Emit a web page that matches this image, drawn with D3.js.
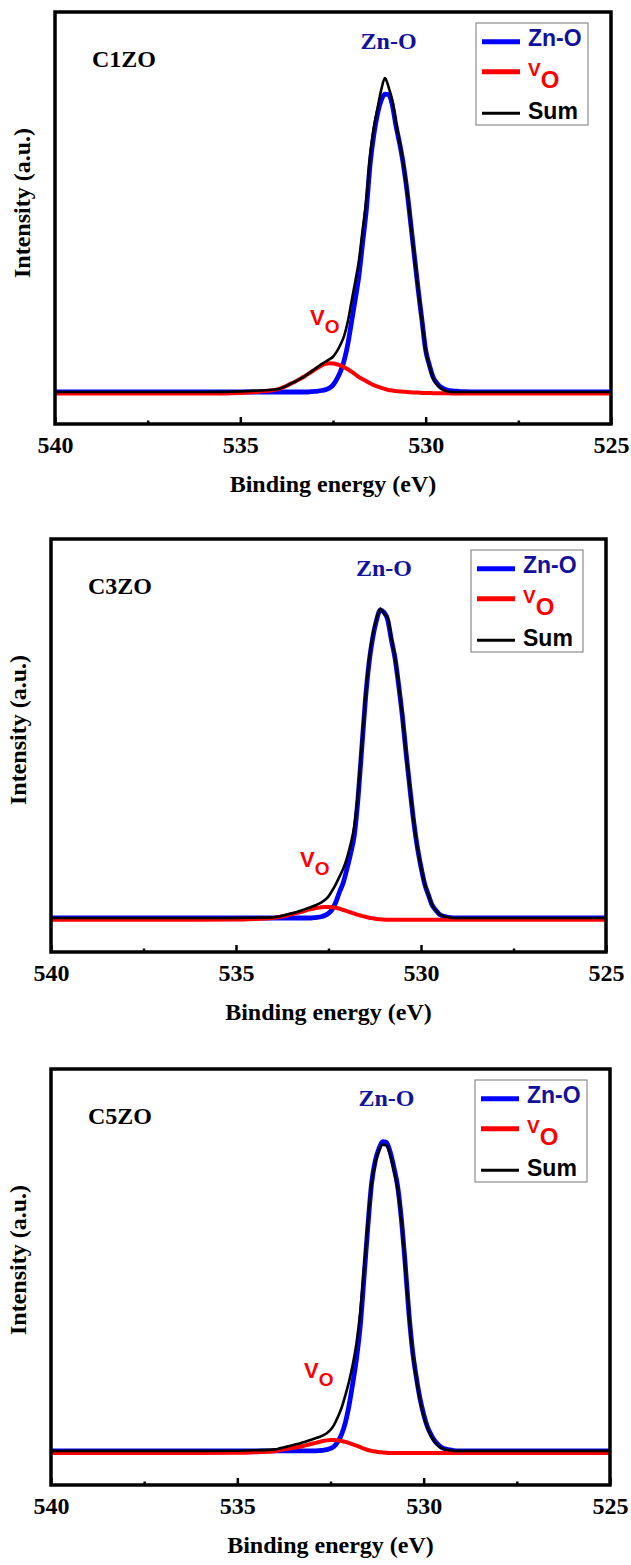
<!DOCTYPE html>
<html><head><meta charset="utf-8">
<script src="https://cdn.jsdelivr.net/npm/d3@7"></script>
<style>body{margin:0;background:#fff}svg{display:block;background:#fff}</style>
</head><body><svg id="c" width="631" height="1565"></svg>
<script>
// ---------- DATA ----------
const energies = [540, 536, 535, 534.5,
  534.0, 533.9, 533.8, 533.7, 533.6, 533.5, 533.4, 533.3, 533.2, 533.1,
  533.0, 532.9, 532.8, 532.7, 532.6, 532.5, 532.4, 532.3, 532.2, 532.1,
  532.0, 531.9, 531.8, 531.7, 531.6, 531.5, 531.4, 531.3, 531.2, 531.1,
  531.0, 530.9, 530.8, 530.7, 530.6, 530.5, 530.4, 530.3, 530.2, 530.1,
  530.0, 529.9, 529.8, 529.7, 529.6, 529.5, 529.4, 529.3, 529.2, 529.1,
  529.0, 528.5, 527, 525];

const c1ZnO = [0,0,0,0,
  0,0,0,0,0,0,0,0,0,0.1,
  0.2,0.3,0.5,0.8,1.3,2.3,4.2,6.8,10.5,16,
  23.5,31,39,50,61,76,86,93,97.5,99.6,
  99.5,96,89,83,76,67,56,45,34,24,
  14,9,5,3,1.7,1,0.6,0.4,0.3,0.2,
  0.1,0,0,0];
const c1Vo = [-0.5,-0.5,-0.3,0.1,
  0.9,1.3,1.8,2.4,3.0,3.6,4.3,5.0,5.8,6.6,
  7.4,8.2,8.9,9.4,9.6,9.5,9.3,8.9,8.3,7.6,
  6.8,5.9,5.0,4.3,3.6,2.9,2.3,1.8,1.4,1.0,
  0.7,0.5,0.3,0.2,0.1,0,-0.1,-0.2,-0.2,-0.3,
  -0.3,-0.3,-0.4,-0.4,-0.4,-0.4,-0.4,-0.5,-0.5,-0.5,
  -0.5,-0.5,-0.5,-0.5];
const c1Sum = [0,0,0.2,0.5,
  0.9,1.3,1.8,2.4,3.0,3.6,4.3,5.0,5.8,6.7,
  7.6,8.5,9.4,10.2,10.9,11.8,13.5,15.8,18.8,23.6,
  30.3,36.9,44,54.3,64.6,78.9,88.3,94.8,101,105,
  102,97.5,90,83.2,76.1,67,55.9,44.8,33.8,23.7,
  13.7,8.7,4.6,2.6,1.3,0.6,0.2,0,0,0,
  0,0,0,0];

const c3ZnO = [0,0,0,0,
  0,0,0,0,0,0,0,0,0,0,
  0,0.1,0.2,0.4,0.8,1.5,2.8,5.2,8.5,11.5,
  16,21,27,39,55,71,83,91,96.5,99.7,
  99,96.5,90,84,75,65,53,42,31.5,23,
  16.5,11,7.5,4.2,2.5,1.2,0.6,0.3,0.1,0,
  0,0,0,0];
const c3Vo = [-0.6,-0.6,-0.5,-0.3,
  0,0.2,0.4,0.6,0.9,1.2,1.5,1.8,2.1,2.5,
  2.8,3.1,3.3,3.5,3.6,3.6,3.5,3.3,3.0,2.6,
  2.2,1.8,1.4,1.0,0.7,0.4,0.1,-0.1,-0.3,-0.4,
  -0.5,-0.6,-0.6,-0.6,-0.6,-0.6,-0.6,-0.6,-0.6,-0.6,
  -0.6,-0.6,-0.6,-0.6,-0.6,-0.6,-0.6,-0.6,-0.6,-0.6,
  -0.6,-0.6,-0.6,-0.6];
const c3Sum = [0,0,0.05,0.1,
  0.2,0.4,0.6,0.9,1.2,1.5,1.8,2.2,2.6,3.0,
  3.4,3.9,4.4,5.0,5.8,7.0,8.9,11.0,13.5,16.0,
  19.5,24,30,41,56.5,72,84,92,97,100.2,
  98.5,97.2,90.5,84,75,65,53,42,31.5,23,
  16.5,11,7.5,4.2,2.5,1.2,0.6,0.3,0.1,0,
  0,0,0,0];

const c5ZnO = [0,0,0,0,
  0,0,0,0,0,0,0,0,0,0,
  0,0,0.1,0.2,0.4,0.8,1.5,3.0,5.4,9.2,
  14.8,22,30,40.5,56,72,86,93.5,97.5,99.8,
  99.5,96.5,91.5,85.5,75,61,45,32.5,24,17,
  11.8,7.8,5.2,3.2,1.9,1.0,0.6,0.3,0.1,0,
  0,0,0,0];
const c5Vo = [-0.7,-0.7,-0.6,-0.4,
  -0.1,0.1,0.4,0.6,0.8,1.0,1.2,1.4,1.7,2.0,
  2.3,2.6,2.9,3.2,3.4,3.5,3.5,3.4,3.2,2.9,
  2.5,2.1,1.7,1.2,0.7,0.3,0,-0.2,-0.4,-0.5,
  -0.6,-0.7,-0.7,-0.7,-0.7,-0.7,-0.7,-0.7,-0.7,-0.7,
  -0.7,-0.7,-0.7,-0.7,-0.7,-0.7,-0.7,-0.7,-0.7,-0.7,
  -0.7,-0.7,-0.7,-0.7];
const c5Sum = [0,0,0.05,0.2,
  0.5,0.7,1.0,1.3,1.6,1.9,2.2,2.5,2.9,3.3,
  3.7,4.1,4.5,5.0,5.7,6.8,8.5,11.0,14.0,18.0,
  22.5,28,35,45,59,73.5,86,93,97,98.8,
  98.5,95.5,90.5,84.5,74.5,60.5,44.5,32,23.5,16.5,
  11.3,7.4,4.8,2.9,1.6,0.8,0.4,0.2,0,0,
  0,0,0,0];

const sampleNames = ["C1ZO", "C3ZO", "C5ZO"];
const znoSeries = [c1ZnO, c3ZnO, c5ZnO];
const voSeries = [c1Vo, c3Vo, c5Vo];
const sumSeries = [c1Sum, c3Sum, c5Sum];
const majorTicks = [540, 535, 530, 525];
const minorTicks = [537.5, 532.5, 527.5];
const legendNames = ["Zn-O", "V", "Sum"];
const xTitle = "Binding energy (eV)";
const yTitle = "Intensity (a.u.)";
// label anchor positions in data units [energy, intensity]
const voLabelAt = [[533.12, 22.4], [533.27, 16.5], [533.21, 23.5]];
const znoLabelAt = [531.0, 531.0, 531.0];

// ---------- LAYOUT ----------
const panels = [
  {left: 55, right: 611, top: 12, bottom: 424, yDomain: [-10.7, 127.1]},
  {left: 51, right: 606, top: 539, bottom: 952, yDomain: [-11.0, 122.7]},
  {left: 51, right: 610, top: 1069, bottom: 1485, yDomain: [-11.0, 123.2]}
];

const svg = d3.select("#c");
const serif = "'Liberation Serif','Times New Roman',Times,serif";
const sans = "'Liberation Sans',Arial,Helvetica,sans-serif";
const ZN_TEXT = "#12129a";
const BLUE = "#0000ff", RED = "#ff0000";

panels.forEach((p, i) => {
  const x = d3.scaleLinear().domain([540, 525]).range([p.left, p.right]);
  const y = d3.scaleLinear().domain(p.yDomain).range([p.bottom, p.top]);
  const g = svg.append("g");
  const clipId = "clip" + i;
  svg.append("clipPath").attr("id", clipId).append("rect")
    .attr("x", p.left).attr("y", p.top)
    .attr("width", p.right - p.left).attr("height", p.bottom - p.top);

  const line = d3.line().x((d, j) => x(energies[j])).y(d => y(d)).curve(d3.curveMonotoneX);
  const plot = g.append("g").attr("clip-path", `url(#${clipId})`);
  plot.append("path").datum(znoSeries[i]).attr("d", line)
    .attr("fill", "none").attr("stroke", BLUE).attr("stroke-width", 4.8).attr("stroke-linejoin", "round");
  plot.append("path").datum(voSeries[i]).attr("d", line)
    .attr("fill", "none").attr("stroke", RED).attr("stroke-width", 4).attr("stroke-linejoin", "round");
  plot.append("path").datum(sumSeries[i]).attr("d", line)
    .attr("fill", "none").attr("stroke", "#000").attr("stroke-width", 2.6).attr("stroke-linejoin", "round");

  // axis ticks
  const ax = d3.axisBottom(x).tickValues(majorTicks).tickSize(-7).tickPadding(0).tickFormat(d3.format("d"));
  const axg = g.append("g").attr("transform", `translate(0,${p.bottom})`).call(ax);
  axg.select(".domain").remove();
  axg.selectAll(".tick line").attr("stroke", "#000").attr("stroke-width", 2.5);
  axg.selectAll(".tick text").attr("y", 29).attr("dy", 0)
    .attr("font-family", serif).attr("font-weight", "bold").attr("font-size", 24).attr("fill", "#000");
  const mx = d3.axisBottom(x).tickValues(minorTicks).tickSize(-3.5).tickFormat("");
  const mxg = g.append("g").attr("transform", `translate(0,${p.bottom})`).call(mx);
  mxg.select(".domain").remove();
  mxg.selectAll(".tick line").attr("stroke", "#000").attr("stroke-width", 2.5);

  // frame
  g.append("rect").attr("x", p.left).attr("y", p.top)
    .attr("width", p.right - p.left).attr("height", p.bottom - p.top)
    .attr("fill", "none").attr("stroke", "#000").attr("stroke-width", 3.5);

  // axis titles
  g.append("text").attr("x", (p.left + p.right) / 2).attr("y", p.bottom + 68)
    .attr("text-anchor", "middle").attr("font-family", serif).attr("font-weight", "bold")
    .attr("font-size", 24).text(xTitle);
  g.append("text").attr("transform", `translate(${p.left - 25},${p.top + 191}) rotate(-90)`)
    .attr("text-anchor", "middle").attr("font-family", serif).attr("font-weight", "bold")
    .attr("font-size", 24).text(yTitle);

  // sample name
  g.append("text").attr("x", p.left + 37).attr("y", p.top + 55)
    .attr("font-family", serif).attr("font-weight", "bold").attr("font-size", 24).text(sampleNames[i]);

  // Zn-O annotation
  g.append("text").attr("x", x(znoLabelAt[i])).attr("y", p.top + 37)
    .attr("text-anchor", "middle").attr("font-family", serif).attr("font-weight", "bold")
    .attr("font-size", 24).attr("fill", ZN_TEXT).text("Zn-O");

  // Vo annotation
  const vt = g.append("text").attr("x", x(voLabelAt[i][0])).attr("y", y(voLabelAt[i][1]))
    .attr("font-family", sans).attr("font-weight", "bold").attr("fill", RED);
  vt.append("tspan").attr("font-size", 22).text("V");
  vt.append("tspan").attr("font-size", 19).attr("dy", 8).text("O");

  // legend
  const lx = p.right - 135, ly = p.top + 11;
  g.append("rect").attr("x", lx).attr("y", ly).attr("width", 112).attr("height", 102)
    .attr("fill", "#fff").attr("stroke", "#8c8c8c").attr("stroke-width", 1.2);
  const lineYs = [29.7, 59.7, 101.3];
  const cols = [BLUE, RED, "#000"];
  const widths = [5, 5, 3];
  lineYs.forEach((ly2, k) => {
    g.append("line").attr("x1", p.right - 129).attr("x2", p.right - 91)
      .attr("y1", p.top + ly2).attr("y2", p.top + ly2)
      .attr("stroke", cols[k]).attr("stroke-width", widths[k]);
  });
  g.append("text").attr("x", p.right - 83).attr("y", p.top + 34)
    .attr("font-family", sans).attr("font-weight", "bold").attr("font-size", 23)
    .attr("fill", ZN_TEXT).text(legendNames[0]);
  const lv = g.append("text").attr("x", p.right - 83).attr("y", p.top + 64)
    .attr("font-family", sans).attr("font-weight", "bold").attr("fill", RED);
  lv.append("tspan").attr("font-size", 19).text(legendNames[1]);
  lv.append("tspan").attr("font-size", 24).attr("dy", 12).text("O");
  g.append("text").attr("x", p.right - 83).attr("y", p.top + 107)
    .attr("font-family", sans).attr("font-weight", "bold").attr("font-size", 23)
    .attr("fill", "#000").text(legendNames[2]);
});
</script>
</body></html>
